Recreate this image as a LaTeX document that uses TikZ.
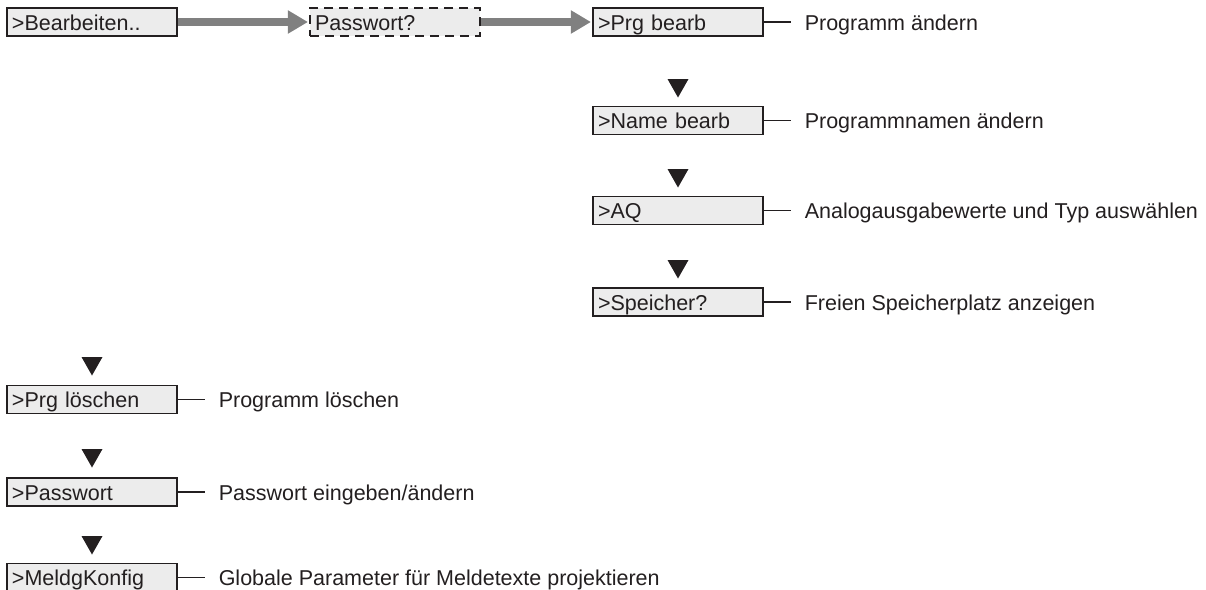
\documentclass[tikz,border=0pt]{standalone}
\usepackage{fontspec}
\setmainfont{Liberation Sans}
\usetikzlibrary{arrows.meta,calc}
\definecolor{boxfill}{HTML}{ECECEC}
\definecolor{ink}{HTML}{231F20}
\definecolor{arrgray}{HTML}{808080}
\begin{document}
\begin{tikzpicture}[x=1pt,y=-1pt,
  every node/.style={font=\fontsize{21.5}{25}\selectfont, text=ink},
  menubox/.style={draw=ink, line width=1.1pt, fill=boxfill, minimum height=28pt,
    text width=160pt, inner xsep=5pt, inner ysep=0pt, align=left,
    text height=16pt, text depth=0pt},
  dashbox/.style={menubox, dash pattern=on 9pt off 6pt},
  desc/.style={anchor=west, inner sep=0pt, text height=16pt, text depth=0pt},
  tick/.style={draw=ink, line width=1.8pt},
  flow/.style={draw=arrgray, line width=8.4pt, -{Triangle[length=20pt,width=22pt]}, shorten >=1.5pt},
  tri/.style={fill=ink}]
\useasboundingbox (0,0) rectangle (1206,589);
% top row
\node[menubox] (b1) at (92,22) {>Bearbeiten..};
\node[dashbox] (b2) at (395,22) {Passwort?};
\node[menubox] (r1) at (678,22) {>Prg bearb};
\draw[flow] (b1.east) -- (b2.west);
\draw[flow] (b2.east) -- (r1.west);
% right column
\node[menubox] (r2) at (678,120.5) {>Name bearb};
\node[menubox] (r3) at (678,210.5) {>AQ};
\node[menubox] (r4) at (678,302) {>Speicher?};
% left column
\node[menubox] (l1) at (92,399.5) {>Prg löschen};
\node[menubox] (l2) at (92,492) {>Passwort};
\node[menubox] (l3) at (92,577.5) {>MeldgKonfig};
% descriptions
\foreach \n/\t in {r1/Programm ändern, r2/Programmnamen ändern,
   r3/Analogausgabewerte und Typ auswählen, r4/Freien Speicherplatz anzeigen,
   l1/Programm löschen, l2/Passwort eingeben\slash ändern,
   l3/Globale Parameter für Meldetexte projektieren}{
  \coordinate (\n e) at ($(\n.east)+(27,0)$);
  \draw[tick] (\n.east) -- (\n e);
  \node[desc] (\n d) at ($(\n.east)+(41,0)$) {\t};
}
% down triangles
\foreach \x/\y in {678/79, 678/169, 678/260, 92/357, 92/449, 92/536}{
  \fill[tri] (\x-10.5,\y) -- (\x+10.5,\y) -- (\x,\y+18.5) -- cycle;
}
\end{tikzpicture}
\end{document}
